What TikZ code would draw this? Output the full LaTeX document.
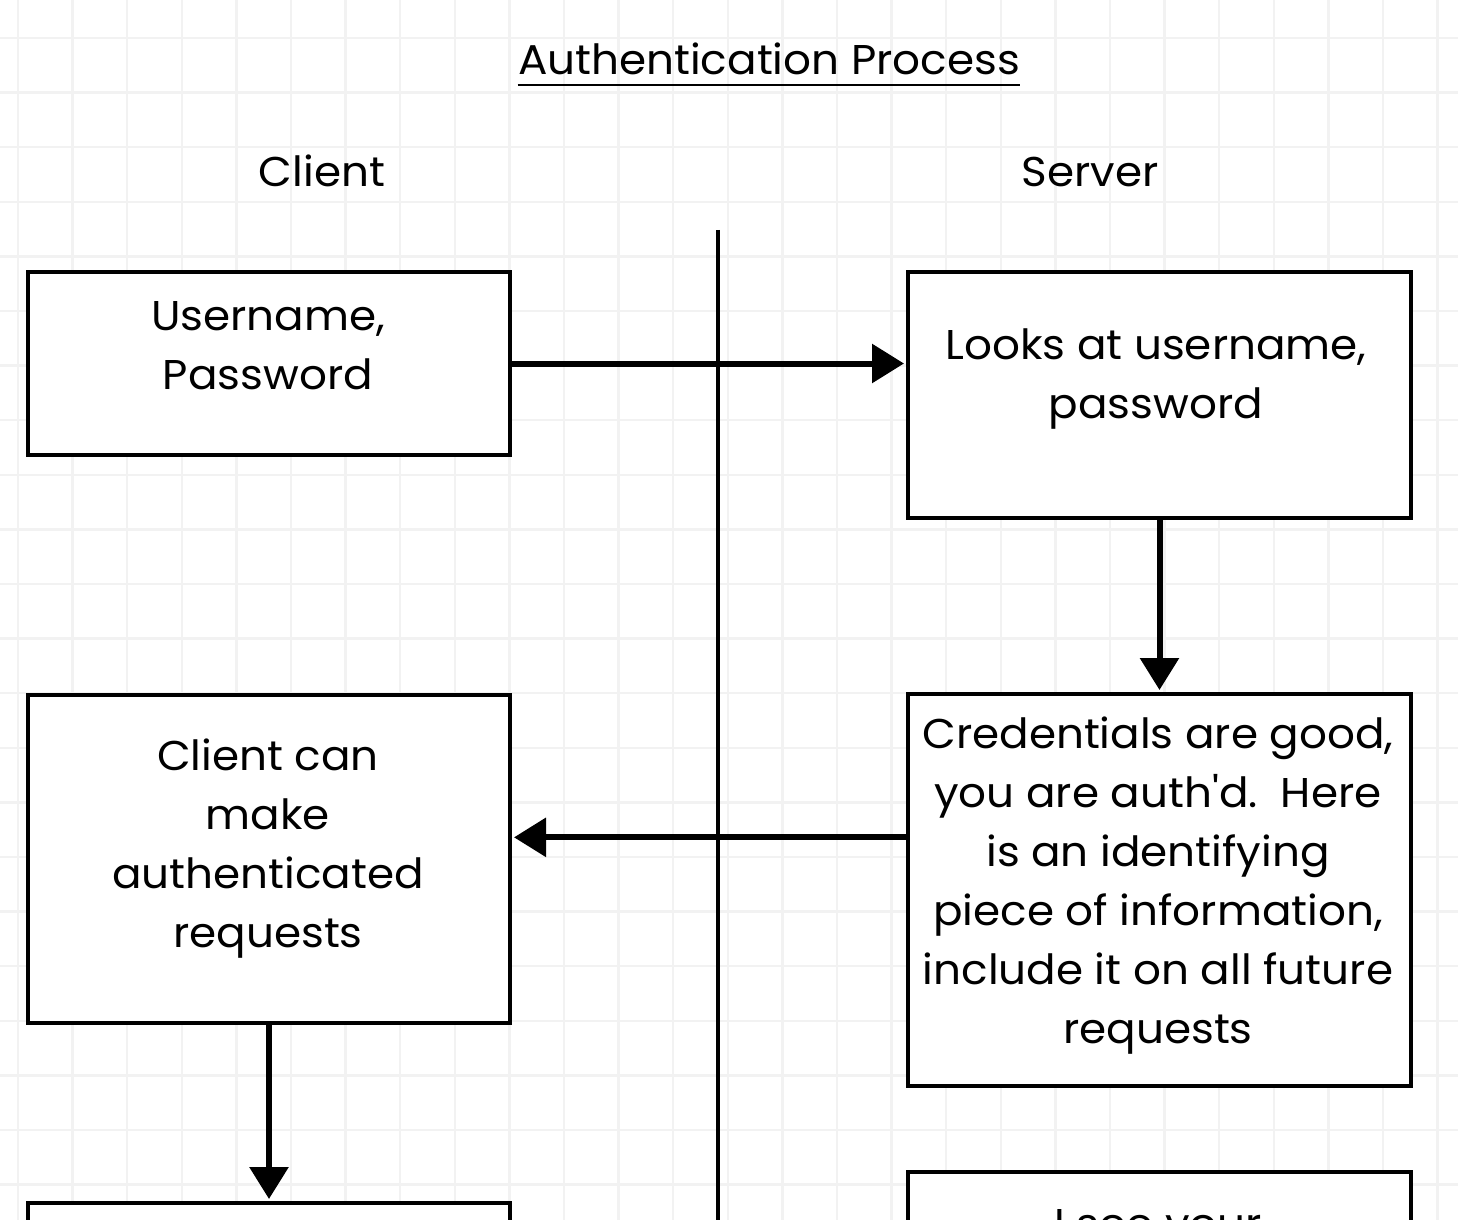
\documentclass[tikz,border=0pt]{standalone}
\usepackage{fontspec}
\setmainfont{Poppins}[FakeStretch=1.05]
\usetikzlibrary{arrows.meta,calc}
\definecolor{gridc}{HTML}{F2F2F2}
\tikzset{
  box/.style={draw=black, line width=2pt, fill=white, inner sep=0pt, rectangle},
  txt/.style={align=center, inner sep=0pt, font=\fontsize{20.8}{29.5}\selectfont},
  lbl/.style={inner sep=0pt, font=\fontsize{20.8}{24}\selectfont},
  flow/.style={line width=3pt, -{Triangle[length=16pt,width=19pt]}, shorten >=1pt},
  divider/.style={line width=2pt},
}
\begin{document}
\begin{tikzpicture}[x=0.5pt,y=-0.5pt]
\useasboundingbox (0,0) rectangle (1458,1220);
\clip (0,0) rectangle (1458,1220);
\fill[white] (0,0) rectangle (1458,1220);
% grid
\foreach \i in {0,...,26} {
  \draw[gridc, line width=1.2pt] ({18+54.6*\i},0) -- ({18+54.6*\i},1220);
}
\foreach \j in {0,...,22} {
  \draw[gridc, line width=1.2pt] (0,{38+54.6*\j}) -- (1458,{38+54.6*\j});
}
% title
\node[lbl, anchor=base] (title) at (769,75) {Authentication Process};
\draw[line width=1pt] (title.base west) ++(0,10) coordinate (ul1) -- (title.base east |- ul1) coordinate (ul2);
% column labels
\node[lbl, anchor=base] (client) at (322,187) {Client};
\node[lbl, anchor=base] (server) at (1090,187) {Server};
% divider
\coordinate (dtop) at (718,230);
\coordinate (dbot) at (718,1230);
\draw[divider] (dtop) -- (dbot);
% boxes
\node[box, minimum width=241pt, minimum height=91.5pt] (b1) at (269,363.5) {};
\node[txt] (t1) at (268,346) {Username,\\Password};
\node[box, minimum width=251.5pt, minimum height=123pt] (b2) at (1159.5,395) {};
\node[txt] (t2) at (1156,379) {Looks at username,\\password};
\node[box, minimum width=251.5pt, minimum height=196pt] (b3) at (1159.5,890) {};
\node[txt] (t3) at (1158,886) {Credentials are good,\\you are auth\textquotesingle d.\ \ Here\\is an identifying\\piece of information,\\include it on all future\\requests};
\node[box, minimum width=241pt, minimum height=164pt] (b4) at (269,859) {};
\node[txt] (t4) at (268,849) {Client can\\make\\authenticated\\requests};
\node[box, minimum width=241pt, minimum height=100pt] (b5) at (269,1303) {};
\node[box, minimum width=251.5pt, minimum height=100pt] (b6) at (1159.5,1272) {};
\node[txt, anchor=base] (t6) at (1158,1238) {I see your};
% connectors
\draw[flow] (b1.east) -- (b2.west |- b1.east);
\draw[flow] (b2.south) -- (b3.north);
\coordinate (a3) at ($(b3.north west)!0.367!(b3.south west)$);
\draw[flow] (a3) -- (b4.east |- a3);
\draw[flow] (b4.south) -- (b5.north);
\end{tikzpicture}
\end{document}
